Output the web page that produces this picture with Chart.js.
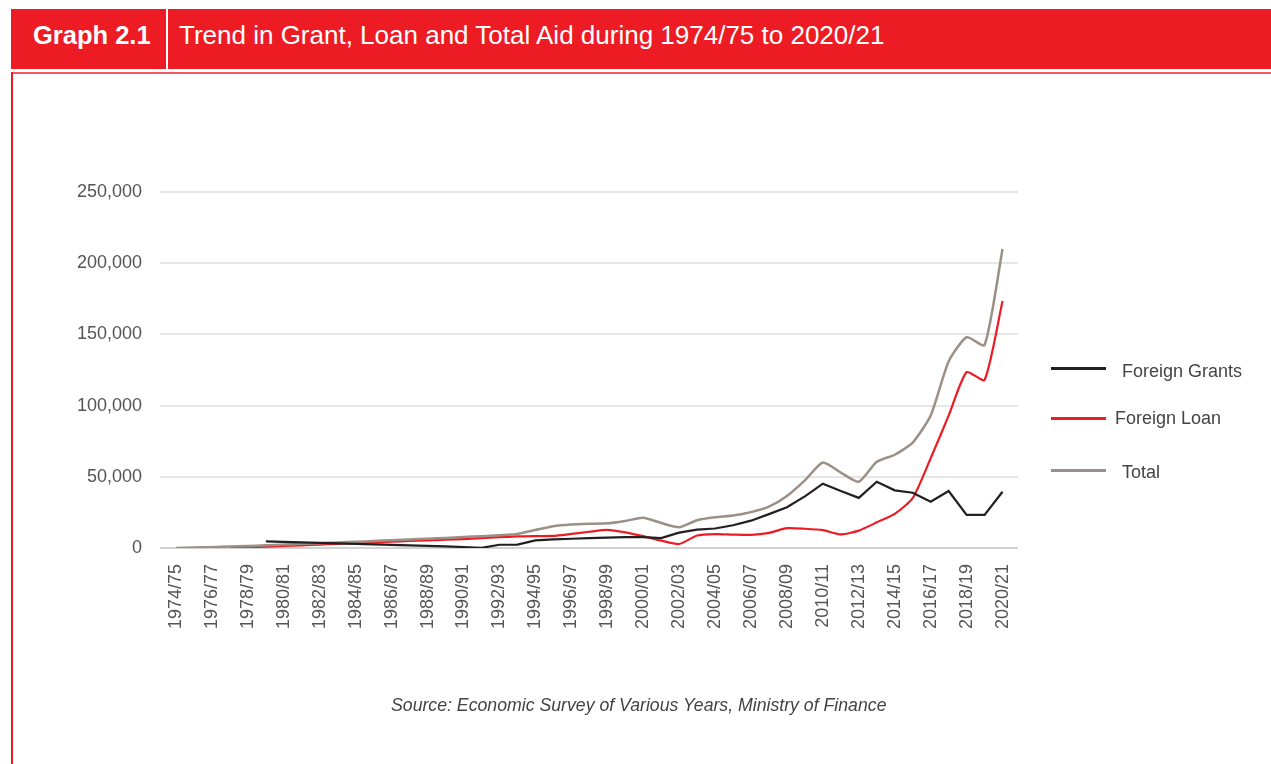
<!DOCTYPE html>
<html>
<head>
<meta charset="utf-8">
<script src="https://cdn.jsdelivr.net/npm/chart.js@4.4.1/dist/chart.umd.min.js"></script>
<style>
  body { margin: 0; background: #fff; font-family: 'Liberation Sans', Arial, sans-serif; }
  #page { position: relative; width: 1271px; height: 764px; overflow: hidden; }
  .abs { position: absolute; white-space: nowrap; line-height: 1; }
  #header { left: 11px; top: 9px; width: 1260px; height: 60px; background: #ED1C24; }
  #divider { left: 166px; top: 9px; width: 2px; height: 60px; background: #fff; }
  #tag { left: 33px; top: 23px; font-size: 25.5px; font-weight: bold; color: #fff; }
  #title { left: 179px; top: 22px; font-size: 26px; color: #fff; }
  #frameTop { left: 11px; top: 72px; width: 1260px; height: 2px; background: #f05a5f; }
  #frameLeft { left: 11px; top: 72px; width: 2px; height: 692px; background: #ED1C24; }
  #chartBox { position: absolute; left: 0; top: 0; width: 1271px; height: 764px; }
  .legline { position: absolute; left: 1051px; width: 55px; height: 2.5px; }
  .legtext { font-size: 18px; color: #444; }
  #source { left: 391px; top: 697px; font-size: 17.7px; font-style: italic; color: #444; }
</style>
</head>
<body>
<div id="page">
  <div id="chartBox"><canvas id="aidChart"></canvas></div>
  <div class="abs" id="header"></div>
  <div class="abs" id="divider"></div>
  <div class="abs" id="tag">Graph 2.1</div>
  <div class="abs" id="title">Trend in Grant, Loan and Total Aid during 1974/75 to 2020/21</div>
  <div class="abs" id="frameTop"></div>
  <div class="abs" id="frameLeft"></div>

  <div class="legline" style="top:367px;background:#231f20"></div>
  <div class="abs legtext" style="left:1122px;top:362px">Foreign Grants</div>
  <div class="legline" style="top:417px;background:#ED1C24"></div>
  <div class="abs legtext" style="left:1115px;top:409px">Foreign Loan</div>
  <div class="legline" style="top:469px;background:#9b9086"></div>
  <div class="abs legtext" style="left:1122px;top:463px">Total</div>

  <div class="abs" id="source">Source: Economic Survey of Various Years, Ministry of Finance</div>
</div>

<script>
// fiscal years, one per point
const years = [
  '1974/75', '1975/76', '1976/77', '1977/78', '1978/79', '1979/80', '1980/81', '1981/82',
  '1982/83', '1983/84', '1984/85', '1985/86', '1986/87', '1987/88', '1988/89', '1989/90',
  '1990/91', '1991/92', '1992/93', '1993/94', '1994/95', '1995/96', '1996/97', '1997/98',
  '1998/99', '1999/00', '2000/01', '2001/02', '2002/03', '2003/04', '2004/05', '2005/06',
  '2006/07', '2007/08', '2008/09', '2009/10', '2010/11', '2011/12', '2012/13', '2013/14',
  '2014/15', '2015/16', '2016/17', '2017/18', '2018/19', '2019/20', '2020/21'
];

const foreignGrants = [
  null, null, null, null, null, 4600, 4300, 4000, 3600, 3300, 2900, 2600, 2200, 1800, 1500, 1100,
  700, 100, 2300, 2400, 5400, 6000, 6500, 7000, 7300, 7600, 7600, 6900, 10800, 12900, 13700, 16000,
  19200, 23800, 28600, 36200, 45200, 40000, 35200, 46500, 40500, 38800, 32500, 40000, 23300, 23300, 39500
];

const foreignLoan = [
  null, null, null, 0, 400, 900, 1400, 1900, 2400, 2900, 3400, 3900, 4400, 4900, 5300, 5800,
  6300, 7000, 7600, 8200, 8400, 8500, 9900, 11400, 12700, 11000, 8300, 5200, 2800, 8800, 9800, 9400,
  9200, 10600, 13900, 13500, 12500, 9500, 12200, 18000, 24000, 35000, 63000, 93000, 123500, 118000, 173500
];

const totalAid = [
  0, 300, 600, 1000, 1400, 1900, 2400, 2900, 3400, 3900, 4400, 4900, 5500, 6000, 6500, 7100,
  7700, 8300, 9000, 9900, 12600, 15300, 16500, 17000, 17300, 19000, 21200, 17600, 14600, 19500, 21600, 22800,
  25200, 29000, 36500, 47500, 60000, 53000, 46500, 60500, 65500, 74000, 93000, 131000, 148000, 142500, 210000
];

const yTicks = [0, 50000, 100000, 150000, 200000, 250000];

const toPoints = (arr) => arr.map((v, i) => ({ x: i, y: v }));

const tickFont = { family: "'Liberation Sans', Arial, sans-serif", size: 18 };

new Chart(document.getElementById('aidChart'), {
  type: 'line',
  data: {
    datasets: [
      {
        label: 'Foreign Grants',
        data: toPoints(foreignGrants),
        borderColor: '#231f20',
        borderWidth: 2.2,
        pointRadius: 0,
        tension: 0,
        order: 0
      },
      {
        label: 'Foreign Loan',
        data: toPoints(foreignLoan),
        borderColor: '#ED1C24',
        borderWidth: 2.2,
        pointRadius: 0,
        tension: 0.2,
        order: 2
      },
      {
        label: 'Total',
        data: toPoints(totalAid),
        borderColor: '#9b9086',
        borderWidth: 2.5,
        pointRadius: 0,
        tension: 0.2,
        order: 1
      }
    ]
  },
  options: {
    responsive: true,
    maintainAspectRatio: false,
    animation: false,
    layout: { padding: { left: 0, top: 192, right: 253, bottom: 106 } },
    plugins: { legend: { display: false }, tooltip: { enabled: false } },
    scales: {
      x: {
        type: 'linear',
        min: -0.89,
        max: 46.86,
        grid: { display: false, drawTicks: false },
        border: { display: false },
        afterFit: (s) => { s.height = 110; },
        ticks: {
          stepSize: 2,
          includeBounds: false,
          autoSkip: false,
          minRotation: 90,
          maxRotation: 90,
          padding: 16,
          color: '#555',
          font: tickFont,
          callback: (v) => years[v]
        }
      },
      y: {
        min: yTicks[0],
        max: yTicks[yTicks.length - 1],
        afterFit: (s) => { s.width = 160; },
        afterBuildTicks: (s) => { s.ticks = yTicks.map(v => ({ value: v })); },
        grid: {
          drawTicks: false,
          lineWidth: 2,
          color: (c) => c.tick && c.tick.value === 0 ? '#d2d2d2' : '#e6e6e6'
        },
        border: { display: false },
        ticks: {
          padding: 18,
          color: '#555',
          font: tickFont,
          callback: (v) => v.toLocaleString('en-US')
        }
      }
    }
  }
});
</script>
</body>
</html>
